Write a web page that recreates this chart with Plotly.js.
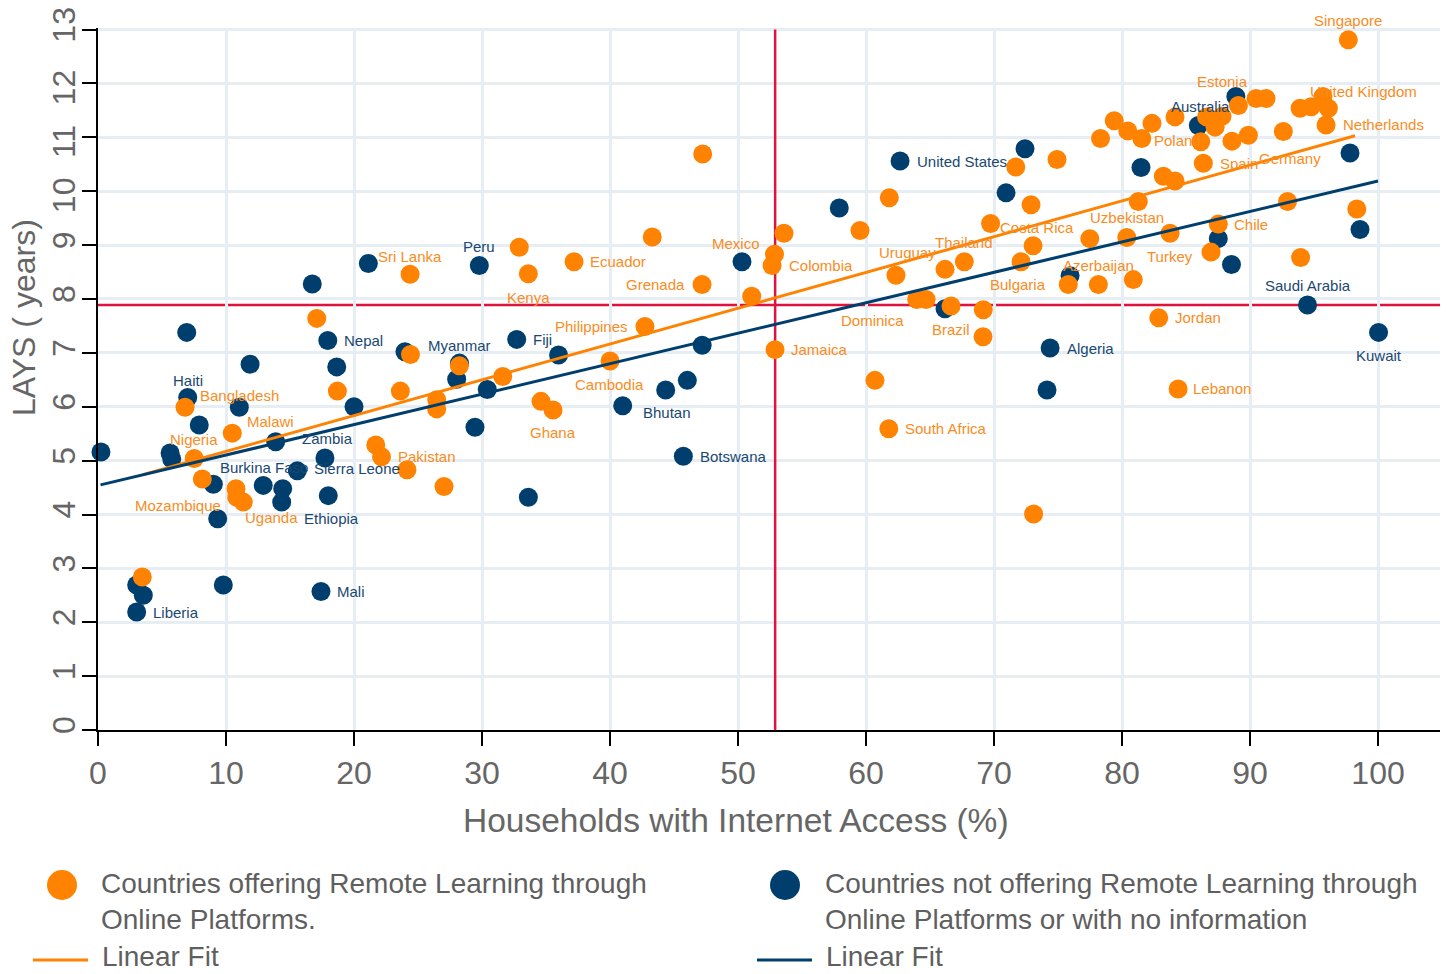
<!DOCTYPE html>
<html>
<head>
<meta charset="utf-8">
<script src="https://cdn.plot.ly/plotly-3.0.1.min.js"></script>
<style>html,body{margin:0;padding:0;background:#fff;}#chart{width:1447px;height:974px;}</style>
</head>
<body>
<div id="chart"></div>
<script>
// ---------- DATA ----------
// Countries offering remote learning through online platforms (orange)
const orangeX = [97.68,89.09,90.47,91.25,95.70,96.12,94.77,93.91,95.94,92.60,
  89.87,88.59,86.15,86.35,86.60,87.27,87.81,84.14,82.34,79.39,
  80.45,81.54,78.32,74.92,71.70,83.23,84.14,81.27,92.93,98.34,
  72.89,61.82,47.24,69.73,87.52,73.05,77.48,80.37,83.75,86.95,
  93.95,59.53,53.59,43.30,32.91,52.85,52.66,37.19,33.62,24.38,
  47.19,51.07,62.34,66.17,67.68,72.11,75.80,78.15,80.88,63.96,
  64.69,66.64,69.16,69.14,82.87,84.38,60.70,61.78,73.09,52.89,
  42.73,40.00,31.62,28.23,34.61,35.55,26.46,26.46,24.41,23.62,
  18.70,17.09,21.70,22.15,24.14,27.03,6.80,10.49,7.52,8.15,
  10.78,10.84,11.35,3.46];
const orangeY = [12.81,11.59,11.72,11.72,11.76,11.54,11.57,11.54,11.23,11.11,
  11.04,10.93,10.92,10.52,11.38,11.19,11.39,11.38,11.26,11.31,
  11.12,10.98,10.98,10.59,10.45,10.28,10.19,9.81,9.81,9.67,
  9.75,9.88,10.69,9.40,9.39,8.99,9.12,9.14,9.22,8.87,
  8.77,9.27,9.22,9.15,8.96,8.83,8.62,8.69,8.47,8.46,
  8.27,8.05,8.44,8.55,8.69,8.69,8.27,8.27,8.36,7.99,
  7.99,7.87,7.80,7.30,7.65,6.33,6.49,5.59,4.01,7.06,
  7.49,6.85,6.56,6.76,6.10,5.94,6.13,5.96,6.97,6.29,
  6.29,7.64,5.29,5.07,4.83,4.52,5.99,5.51,5.04,4.66,
  4.48,4.32,4.23,2.84];
const orangeName = ['Singapore','Estonia','','','','','','United Kingdom','Netherlands','',
  'Germany','','','Spain','','','','','','',
  '','Poland','','','','','','','','',
  '','','','Costa Rica','Chile','','','Uzbekistan','Turkey','',
  '','','','','','Mexico','Colombia','Ecuador','Kenya','Sri Lanka',
  'Grenada','','Uruguay','','Thailand','','Bulgaria','Azerbaijan','','Dominica',
  '','Brazil','','','Jordan','Lebanon','','South Africa','','Jamaica',
  'Philippines','Cambodia','','','','Ghana','','','','',
  '','','','','Pakistan','','Bangladesh','Malawi','Nigeria','',
  'Mozambique','','Uganda',''];

// Countries not offering remote learning through online platforms or with no information (blue)
const blueX = [0.23,5.63,5.76,6.93,7.01,7.91,9.01,9.35,11.04,11.88,
  12.91,13.88,14.43,14.35,15.57,17.73,17.99,16.74,21.12,17.95,
  18.65,20.00,23.98,28.24,28.02,29.45,30.41,29.79,32.71,35.98,
  33.62,40.99,44.35,46.04,47.20,45.73,50.31,57.91,62.66,66.17,
  70.94,72.42,75.94,74.38,74.14,81.48,85.96,88.89,87.52,88.55,
  94.49,97.81,98.59,100.04,3.02,3.54,3.02,9.79,17.42];
const blueY = [5.16,5.14,5.03,7.38,6.17,5.66,4.56,3.92,5.99,6.79,
  4.54,5.35,4.48,4.23,4.81,5.05,4.35,8.28,8.66,7.23,
  6.74,6.00,7.02,6.81,6.51,5.62,6.32,8.62,7.25,6.96,
  4.32,6.02,6.31,6.49,7.14,5.08,8.69,9.69,10.56,7.82,
  9.97,10.79,8.43,7.09,6.31,10.44,11.22,11.76,9.12,8.64,
  7.89,10.71,9.29,7.38,2.69,2.50,2.19,2.69,2.57];
const blueName = ['','','','','Haiti','','Burkina Faso','','','',
  '','Zambia','','Ethiopia','Sierra Leone','','','','','Nepal',
  '','','','Myanmar','','','','Peru','Fiji','',
  '','Bhutan','','','','Botswana','','','United States','',
  '','','','Algeria','','','Australia','','','',
  'Saudi Arabia','','','Kuwait','','','Liberia','','Mali'];

// Linear fits (end points)
const fitOrangeX = [3.5, 98.2];
const fitOrangeY = [4.74, 11.03];
const fitBlueX = [0.2, 100.0];
const fitBlueY = [4.55, 10.19];

// Reference lines (averages)
const refInternet = 52.9;
const refLAYS = 7.89;

// Axis ticks
const xTicks = [0,10,20,30,40,50,60,70,80,90,100];
const yTicks = [0,1,2,3,4,5,6,7,8,9,10,11,12,13];

// ---------- STYLE ----------
const ORANGE = '#FF8200';
const BLUE = '#003F6D';
const ORANGE_TXT = '#F98C1E';
const BLUE_TXT = '#1A4872';
const GRAY = '#666666';
const FONT = 'Liberation Sans, Arial, sans-serif';

// label placement: [xanchor, xshift px, yshift px]
const labelPlace = {
  'Singapore':['center',0,19], 'Estonia':['center',-16,24], 'United Kingdom':['left',8,17],
  'Netherlands':['left',15,0], 'Poland':['left',10,-2], 'Spain':['left',15,0],
  'Germany':['left',9,-23], 'Costa Rica':['left',7,-4], 'Chile':['left',14,0],
  'Uzbekistan':['center',0,20], 'Turkey':['center',0,-23], 'Thailand':['center',0,19],
  'Uruguay':['center',12,23], 'Azerbaijan':['center',0,19], 'Bulgaria':['right',-20,0],
  'Mexico':['right',-13,11], 'Colombia':['left',15,0], 'Ecuador':['left',14,0],
  'Sri Lanka':['center',0,18], 'Kenya':['center',0,-24], 'Grenada':['right',-15,0],
  'Philippines':['right',-15,0], 'Cambodia':['center',-1,-24], 'Ghana':['center',0,-23],
  'Jamaica':['left',14,0], 'Dominica':['right',-11,-21], 'Brazil':['center',0,-23],
  'Jordan':['left',14,0], 'Lebanon':['left',13,0], 'South Africa':['left',14,0],
  'Pakistan':['left',-11,13], 'Malawi':['left',13,12], 'Bangladesh':['left',13,12],
  'Nigeria':['center',0,19], 'Mozambique':['right',-13,-17], 'Uganda':['left',0,-15],
  'Australia':['center',2,19], 'United States':['left',15,0], 'Saudi Arabia':['center',0,19],
  'Kuwait':['center',0,-23], 'Algeria':['left',15,0], 'Peru':['center',0,19],
  'Nepal':['left',14,0], 'Myanmar':['center',0,18], 'Fiji':['left',14,0],
  'Bhutan':['left',18,-7], 'Botswana':['left',15,0], 'Haiti':['center',0,17],
  'Zambia':['left',24,3], 'Burkina Faso':['left',5,17], 'Sierra Leone':['left',15,2],
  'Ethiopia':['left',20,-16], 'Liberia':['left',14,0], 'Mali':['left',14,0]
};

// plot area in pixels (for legend / title placement)
const PL = 98, PR = 1440, PT = 28, PB = 730;
const px = v => (v - PL) / (PR - PL);
const py = v => (PB - v) / (PB - PT);

const traces = [
  {type:'scatter', mode:'markers', x:blueX, y:blueY, text:blueName, cliponaxis:false,
   marker:{color:BLUE, size:19, line:{width:0}}, showlegend:false, hoverinfo:'x+y+text'},
  {type:'scatter', mode:'markers', x:orangeX, y:orangeY, text:orangeName, cliponaxis:false,
   marker:{color:ORANGE, size:19, line:{width:0}}, showlegend:false, hoverinfo:'x+y+text'},
  {type:'scatter', mode:'lines', x:fitOrangeX, y:fitOrangeY, line:{color:ORANGE, width:3}, showlegend:false, hoverinfo:'skip'},
  {type:'scatter', mode:'lines', x:fitBlueX, y:fitBlueY, line:{color:BLUE, width:3}, showlegend:false, hoverinfo:'skip'}
];

const annotations = [];
function addLabels(xs, ys, names, color) {
  names.forEach((n, i) => {
    if (!n) return;
    const p = labelPlace[n] || ['left', 14, 0];
    annotations.push({x:xs[i], y:ys[i], xref:'x', yref:'y', text:n, showarrow:false,
      xanchor:p[0], yanchor:'middle', xshift:p[1], yshift:p[2],
      font:{family:FONT, size:15, color:color}});
  });
}
addLabels(blueX, blueY, blueName, BLUE_TXT);
addLabels(orangeX, orangeY, orangeName, ORANGE_TXT);

// axis titles
annotations.push(
  {xref:'paper', yref:'paper', x:px(736), y:py(820), xanchor:'center', yanchor:'middle', showarrow:false,
   text:'Households with Internet Access (%)', font:{family:FONT, size:33.5, color:GRAY}},
  {xref:'paper', yref:'paper', x:px(24), y:py(318), xanchor:'center', yanchor:'middle', showarrow:false,
   textangle:-90, text:'LAYS ( years)', font:{family:FONT, size:32, color:GRAY}}
);

// manual legend
const legFont = {family:FONT, size:28, color:'#5f5f5f'};
annotations.push(
  {xref:'paper', yref:'paper', x:px(99), y:py(901), xanchor:'left', yanchor:'middle', align:'left', showarrow:false,
   text:'Countries offering Remote Learning through<br>Online Platforms.', font:legFont},
  {xref:'paper', yref:'paper', x:px(823), y:py(901), xanchor:'left', yanchor:'middle', align:'left', showarrow:false,
   text:'Countries not offering Remote Learning through<br>Online Platforms or with no information', font:legFont},
  {xref:'paper', yref:'paper', x:px(100), y:py(974), xanchor:'left', yanchor:'bottom', showarrow:false,
   text:'Linear Fit', font:legFont},
  {xref:'paper', yref:'paper', x:px(824), y:py(974), xanchor:'left', yanchor:'bottom', showarrow:false,
   text:'Linear Fit', font:legFont}
);

const shapes = [
  {type:'line', xref:'paper', yref:'y', x0:0, x1:1, y0:refLAYS, y1:refLAYS, layer:'between',
   line:{color:'#E0123F', width:2.5}},
  {type:'line', xref:'x', yref:'y', x0:refInternet, x1:refInternet, y0:0, y1:13, layer:'between',
   line:{color:'#E0123F', width:2.5}},
  {type:'circle', xref:'paper', yref:'paper', xsizemode:'pixel', ysizemode:'pixel',
   xanchor:px(62), yanchor:py(885), x0:-15, x1:15, y0:-15, y1:15, fillcolor:ORANGE, line:{width:0}},
  {type:'circle', xref:'paper', yref:'paper', xsizemode:'pixel', ysizemode:'pixel',
   xanchor:px(785), yanchor:py(885), x0:-15, x1:15, y0:-15, y1:15, fillcolor:BLUE, line:{width:0}},
  {type:'line', xref:'paper', yref:'paper', x0:px(33), x1:px(88), y0:py(960), y1:py(960), line:{color:ORANGE, width:3}},
  {type:'line', xref:'paper', yref:'paper', x0:px(757), x1:px(812), y0:py(960), y1:py(960), line:{color:BLUE, width:3}}
];

const layout = {
  width:1447, height:974,
  margin:{l:PL, r:1447-PR, t:PT, b:974-PB, pad:0},
  paper_bgcolor:'#ffffff', plot_bgcolor:'#ffffff',
  font:{family:FONT, color:GRAY},
  showlegend:false,
  xaxis:{range:[0,104.84], tickmode:'array', tickvals:xTicks, ticktext:xTicks.map(String),
    showgrid:true, gridcolor:'#E6EEF3', gridwidth:3, zeroline:false,
    showline:true, linecolor:'#000000', linewidth:2,
    ticks:'outside', ticklen:14, tickwidth:2, tickcolor:'#000000',
    tickfont:{family:FONT, size:32, color:GRAY}},
  yaxis:{range:[0,13.03], tickmode:'array', tickvals:yTicks,
    ticktext:yTicks.map(v => (v >= 10 && v < 13) ? v + '<span style="color:rgba(0,0,0,0)">0</span>' : String(v)),
    tickangle:-90, ticklabeloverflow:'allow', ticklabelstandoff:-6,
    showgrid:true, gridcolor:'#E6EEF3', gridwidth:3, zeroline:false,
    showline:true, linecolor:'#000000', linewidth:2,
    ticks:'outside', ticklen:14, tickwidth:2, tickcolor:'#000000',
    tickfont:{family:FONT, size:32, color:GRAY}},
  shapes:shapes,
  annotations:annotations
};

Plotly.newPlot('chart', traces, layout, {displayModeBar:false, responsive:false});
</script>
</body>
</html>
